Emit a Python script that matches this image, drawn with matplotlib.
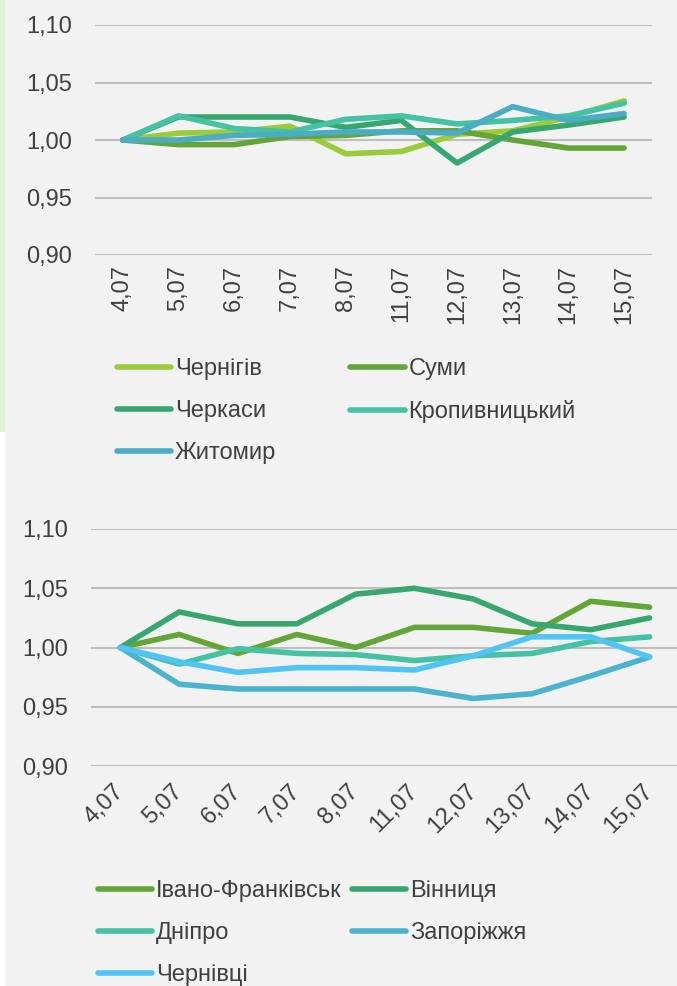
import numpy as np
import matplotlib.pyplot as plt
from matplotlib.patches import Rectangle

plt.rcParams['font.family'] = ['Liberation Sans', 'DejaVu Sans']

dates = ['4,07', '5,07', '6,07', '7,07', '8,07', '11,07', '12,07', '13,07', '14,07', '15,07']

# top chart
top_names = ['Чернігів', 'Суми', 'Черкаси', 'Кропивницький', 'Житомир']
chernihiv = [1.000, 1.006, 1.007, 1.012, 0.988, 0.990, 1.005, 1.008, 1.020, 1.034]
sumy = [1.000, 0.996, 0.996, 1.003, 1.004, 1.008, 1.008, 1.000, 0.993, 0.993]
cherkasy = [1.000, 1.020, 1.020, 1.020, 1.011, 1.017, 0.980, 1.007, 1.013, 1.020]
kropyvnytskyi = [1.000, 1.021, 1.010, 1.007, 1.018, 1.021, 1.014, 1.017, 1.021, 1.032]
zhytomyr = [1.000, 1.000, 1.004, 1.005, 1.007, 1.007, 1.006, 1.029, 1.017, 1.023]

# bottom chart
bot_names = ['Івано-Франківськ', 'Вінниця', 'Дніпро', 'Запоріжжя', 'Чернівці']
ivano = [1.000, 1.011, 0.995, 1.011, 1.000, 1.017, 1.017, 1.012, 1.039, 1.034]
vinnytsia = [1.000, 1.030, 1.020, 1.020, 1.045, 1.050, 1.041, 1.020, 1.015, 1.025]
dnipro = [1.000, 0.986, 0.999, 0.995, 0.994, 0.989, 0.993, 0.995, 1.005, 1.009]
zaporizhzhia = [1.000, 0.969, 0.965, 0.965, 0.965, 0.965, 0.957, 0.961, 0.976, 0.992]
chernivtsi = [1.000, 0.988, 0.979, 0.983, 0.983, 0.981, 0.993, 1.009, 1.009, 0.992]

top_colors = ['#9bcb3b', '#63a536', '#37a76f', '#45c1a4', '#4bacc6']
bot_colors = ['#63a536', '#37a76f', '#45c1a4', '#4bb3d0', '#52c3f5']

bg = '#f2f2f2'
txt = '#404040'
fs = 17

fig = plt.figure(figsize=(6.77, 9.86), dpi=100, facecolor=bg)
fig.patches.append(Rectangle((0, 1 - 432/986), 4/677, 432/986, transform=fig.transFigure,
                             color='#e2efd9', zorder=0))
fig.patches.append(Rectangle((0, 0), 4/677, 1 - 432/986, transform=fig.transFigure,
                             color='white', zorder=0))

ax1 = fig.add_axes([95/677, 1 - 255/986, 557/677, 230/986])
ax2 = fig.add_axes([91/677, 1 - 766/986, 588/677, 237/986])

x = np.arange(len(dates))


def style(ax):
    ax.set_facecolor(bg)
    ax.set_ylim(0.90, 1.10)
    ax.set_xlim(-0.5, len(dates) - 0.5)
    ax.set_yticks([0.90, 0.95, 1.00, 1.05, 1.10])
    ax.set_yticklabels(['0,90', '0,95', '1,00', '1,05', '1,10'])
    for s in ax.spines.values():
        s.set_visible(False)
    ax.grid(axis='y', color='#bfbfbf', linewidth=1.5)
    ax.set_axisbelow(True)
    ax.tick_params(length=0, labelsize=fs, labelcolor=txt)
    ax.tick_params(axis='y', pad=16.5)
    ax.set_xticks(x)


style(ax1)
ax1.set_xticklabels(dates, rotation=90)
ax1.tick_params(axis='x', pad=7)
lines1 = []
for vals, name, c in zip([chernihiv, sumy, cherkasy, kropyvnytskyi, zhytomyr], top_names, top_colors):
    l, = ax1.plot(x, vals, color=c, lw=4, label=name, solid_capstyle='round', solid_joinstyle='round')
    lines1.append(l)

style(ax2)
ax2.set_xticklabels(dates, rotation=45, ha='right', va='center', rotation_mode='anchor')
ax2.tick_params(axis='x', pad=16)
lines2 = []
for vals, name, c in zip([ivano, vinnytsia, dnipro, zaporizhzhia, chernivtsi], bot_names, bot_colors):
    l, = ax2.plot(x, vals, color=c, lw=4, label=name, solid_capstyle='round', solid_joinstyle='round')
    lines2.append(l)

# row-major order for 2-column legends
order = [0, 2, 4, 1, 3]
leg1 = fig.legend([lines1[i] for i in order], [top_names[i] for i in order], ncol=2,
                  loc='upper left', bbox_to_anchor=(117/677, 1 - 358/986), frameon=False,
                  fontsize=fs, labelcolor=txt, handlelength=2.3, handletextpad=0.15,
                  columnspacing=3.15, labelspacing=0.85, borderpad=0, borderaxespad=0)
leg2 = fig.legend([lines2[i] for i in order], [bot_names[i] for i in order], ncol=2,
                  loc='upper left', bbox_to_anchor=(98/677, 1 - 880/986), frameon=False,
                  fontsize=fs, labelcolor=txt, handlelength=2.3, handletextpad=0.15,
                  columnspacing=0.45, labelspacing=0.85, borderpad=0, borderaxespad=0)
for leg in (leg1, leg2):
    for h in leg.legend_handles:
        h.set_linewidth(4)

fig.savefig('out.png', dpi=100, facecolor=bg)
